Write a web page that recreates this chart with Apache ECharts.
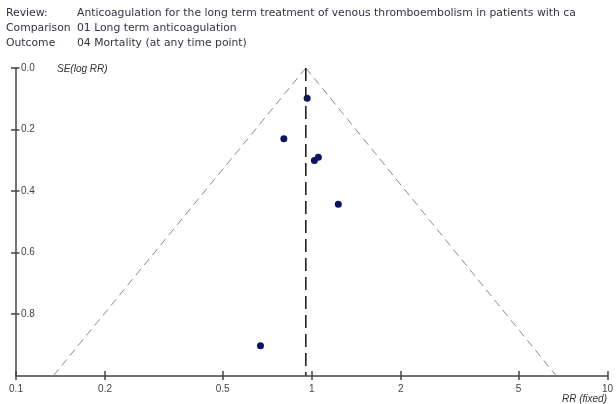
<!DOCTYPE html>
<html>
<head>
<meta charset="utf-8">
<script src="https://cdn.jsdelivr.net/npm/echarts@6/dist/echarts.min.js"></script>
<style>html,body{margin:0;padding:0;background:#fff;}#c{width:616px;height:404px;}</style>
</head>
<body>
<div id="c"></div>
<script>
// Study estimates
const studyRR = [0.965, 0.805, 1.021, 1.053, 1.23, 0.671];
const studySE = [0.098, 0.23, 0.301, 0.29, 0.443, 0.903];
// Pooled (fixed) estimate and funnel limits
const pooledRR = 0.955;
const funnelSE = [0, 1];
const funnelLeftRR = [0.955, 0.134];
const funnelRightRR = [0.955, 6.7];
// Tick labels
const xTicks = [0.1, 0.2, 0.5, 1, 2, 5, 10];
const yTicks = [0, 0.2, 0.4, 0.6, 0.8];
const headerKeys = ['Review:', 'Comparison', 'Outcome'];
const headerVals = ['Anticoagulation for the long term treatment of venous thromboembolism in patients with ca',
  '01 Long term anticoagulation', '04 Mortality (at any time point)'];

const chart = echarts.init(document.getElementById('c'), null, {renderer: 'canvas'});
const font = 'Liberation Sans, Arial, sans-serif';
const hfont = 'DejaVu Sans, sans-serif';
const axisCol = '#444';
const grid = {left: 16, right: 7, top: 68, bottom: 28.5};

const headerGraphics = [];
headerKeys.forEach((k, i) => {
  headerGraphics.push({type: 'text', left: 6, top: 8 + i * 15, style: {text: k, fontSize: 10.8, fontFamily: hfont, fill: '#333344'}});
  headerGraphics.push({type: 'text', left: 77, top: 8 + i * 15, style: {text: headerVals[i], fontSize: 10.8, fontFamily: hfont, fill: '#333344'}});
});

chart.setOption({
  animation: false,
  backgroundColor: '#fff',
  grid: grid,
  xAxis: [{
    type: 'log', logBase: 10, min: 0.1, max: 10,
    axisLine: {show: true, onZero: false, lineStyle: {color: axisCol, width: 1.5}},
    axisTick: {show: true, length: 4.5, lineStyle: {color: axisCol, width: 1.5}, customValues: xTicks},
    axisLabel: {show: true, customValues: xTicks, margin: 9, fontSize: 10, fontFamily: font, color: '#444',
      formatter: v => String(v)},
    splitLine: {show: false}, minorTick: {show: false}
  }, {
    type: 'log', logBase: 10, min: 0.1, max: 10, position: 'bottom',
    axisLine: {show: false, onZero: false},
    axisTick: {show: true, inside: true, length: 4.5, lineStyle: {color: axisCol, width: 1.5}, customValues: xTicks},
    axisLabel: {show: false}, splitLine: {show: false}
  }],
  yAxis: [{
    type: 'value', min: 0, max: 1, inverse: true, interval: 0.2,
    axisLine: {show: true, onZero: false, lineStyle: {color: axisCol, width: 1.5}},
    axisTick: {show: true, inside: true, length: 3.5, lineStyle: {color: axisCol, width: 1.5}, customValues: yTicks},
    axisLabel: {show: true, inside: true, margin: 5, fontSize: 10, fontFamily: font, color: '#444',
      customValues: yTicks, formatter: v => v.toFixed(1)},
    splitLine: {show: false}
  }, {
    type: 'value', min: 0, max: 1, inverse: true, interval: 0.2, position: 'left',
    axisLine: {show: false, onZero: false},
    axisTick: {show: true, inside: false, length: 5, lineStyle: {color: axisCol, width: 1.5}, customValues: yTicks},
    axisLabel: {show: false}, splitLine: {show: false}
  }],
  series: [
    {type: 'line', xAxisIndex: 0, yAxisIndex: 0, symbol: 'none', silent: true,
      data: funnelSE.map((s, i) => [funnelLeftRR[i], s]),
      lineStyle: {color: '#8a8a8a', width: 1, type: [8, 5]}},
    {type: 'line', xAxisIndex: 0, yAxisIndex: 0, symbol: 'none', silent: true,
      data: funnelSE.map((s, i) => [funnelRightRR[i], s]),
      lineStyle: {color: '#8a8a8a', width: 1, type: [8, 5]}},
    {type: 'line', xAxisIndex: 0, yAxisIndex: 0, symbol: 'none', silent: true,
      data: funnelSE.map(s => [pooledRR, s]),
      lineStyle: {color: '#222', width: 1.6, type: [13, 6]}},
    {type: 'scatter', xAxisIndex: 0, yAxisIndex: 0, symbol: 'circle', symbolSize: 7,
      data: studyRR.map((r, i) => [r, studySE[i]]),
      itemStyle: {color: '#0a1464', opacity: 1}}
  ],
  graphic: headerGraphics.concat([
    {type: 'text', left: 57, top: 64, style: {text: 'SE(log RR)', fontSize: 10, fontStyle: 'italic', fontFamily: font, fill: '#333'}},
    {type: 'text', right: 9, top: 394, style: {text: 'RR (fixed)', fontSize: 10, fontStyle: 'italic', fontFamily: font, fill: '#333'}}
  ])
});
</script>
</body>
</html>
